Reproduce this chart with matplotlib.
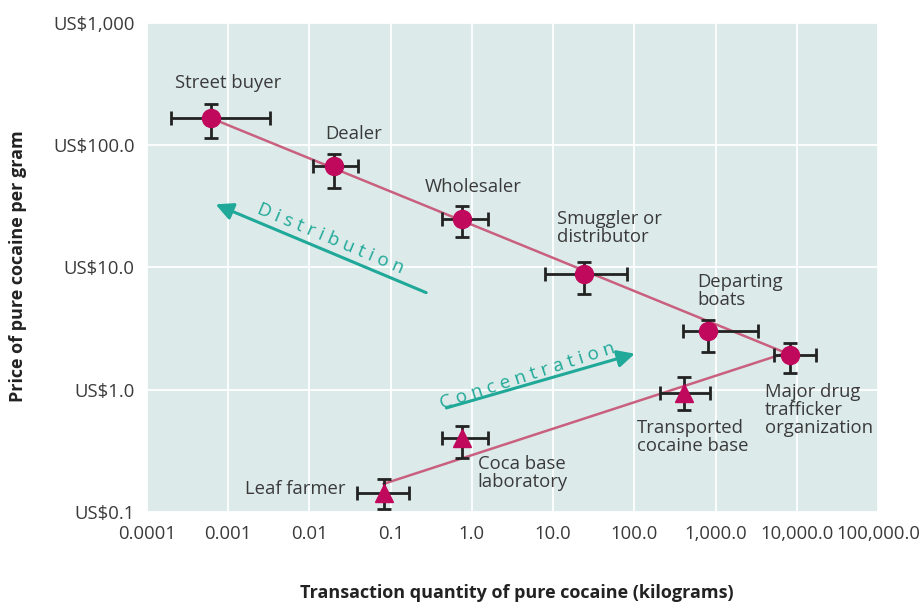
import matplotlib
matplotlib.use("Agg")
import matplotlib.pyplot as plt

plt.rcParams['font.family'] = ['Open Sans', 'DejaVu Sans']

# Distribution chain (circles): quantity (kg) and price (US$/g) with error ranges
circle_names = ['Street buyer', 'Dealer', 'Wholesaler', 'Smuggler or\ndistributor',
                'Departing\nboats', 'Major drug\ntrafficker\norganization']
circle_qty = [0.00062, 0.020, 0.75, 24, 800, 8200]
circle_qty_lo = [0.0002, 0.0112, 0.43, 8, 392, 5200]
circle_qty_hi = [0.0033, 0.040, 1.58, 82, 3300, 17200]
circle_price = [166, 67, 24.7, 8.8, 3.0, 1.94]
circle_price_lo = [114, 45, 17.6, 6.1, 2.05, 1.38]
circle_price_hi = [217, 84.5, 32, 11, 3.75, 2.43]

# Concentration chain (triangles)
tri_names = ['Transported\ncocaine base', 'Coca base\nlaboratory', 'Leaf farmer']
tri_qty = [403, 0.75, 0.082]
tri_qty_lo = [204, 0.43, 0.039]
tri_qty_hi = [843, 1.58, 0.167]
tri_price = [0.945, 0.40, 0.143]
tri_price_lo = [0.686, 0.277, 0.106]
tri_price_hi = [1.28, 0.507, 0.186]

# fitted trend lines
upper_line_x = [0.00062, 8200]
upper_line_y = [166, 1.94]
lower_line_x = [0.082, 8200]
lower_line_y = [0.17, 2.05]

x_ticks = [0.0001, 0.001, 0.01, 0.1, 1, 10, 100, 1000, 10000, 100000]
x_tick_labels = ['0.0001', '0.001', '0.01', '0.1', '1.0', '10.0', '100.0',
                 '1,000.0', '10,000.0', '100,000.0']
y_ticks = [0.1, 1, 10, 100, 1000]
y_tick_labels = ['US$0.1', 'US$1.0', 'US$10.0', 'US$100.0', 'US$1,000']

magenta = '#c0095c'
line_pink = '#c9607f'
teal = '#20a898'
text_col = '#3a3a3a'

fig = plt.figure(figsize=(9.23, 6.03), dpi=100)
ax = fig.add_axes([0.1593, 0.1509, 0.792, 0.811])
ax.set_facecolor('#dcebea')
ax.set_xscale('log')
ax.set_yscale('log')
ax.set_xlim(0.0001, 100000)
ax.set_ylim(0.1, 1000)

ax.set_xticks(x_ticks)
ax.set_xticklabels(x_tick_labels, fontsize=13.3, color=text_col)
ax.set_yticks(y_ticks)
ax.set_yticklabels(y_tick_labels, fontsize=13.3, color=text_col)
ax.minorticks_off()
ax.tick_params(length=0, pad=9)
ax.grid(True, color='white', linewidth=1.3)
ax.set_axisbelow(True)
for s in ax.spines.values():
    s.set_visible(False)

# trend lines
ax.plot(upper_line_x, upper_line_y, color=line_pink, lw=1.8, zorder=2)
ax.plot(lower_line_x, lower_line_y, color=line_pink, lw=1.8, zorder=2)

# error bars
def err(v, lo, hi):
    return [[a - b for a, b in zip(v, lo)], [c - a for a, c in zip(v, hi)]]

ax.errorbar(circle_qty, circle_price,
            xerr=err(circle_qty, circle_qty_lo, circle_qty_hi),
            yerr=err(circle_price, circle_price_lo, circle_price_hi),
            fmt='none', ecolor='#222222', elinewidth=2, capsize=5, capthick=2, zorder=3)
ax.errorbar(tri_qty, tri_price,
            xerr=err(tri_qty, tri_qty_lo, tri_qty_hi),
            yerr=err(tri_price, tri_price_lo, tri_price_hi),
            fmt='none', ecolor='#222222', elinewidth=2, capsize=5, capthick=2, zorder=3)

ax.plot(circle_qty, circle_price, 'o', color=magenta, markersize=13, zorder=4)
ax.plot(tri_qty, tri_price, '^', color=magenta, markersize=13, zorder=4)

# labels (offsets in pixels from each point)
circle_offsets = [(17, 35, 'center'), (20, 32, 'center'), (11, 32, 'center'),
                  (-27, 46, 'left'), (-10, 40, 'left'), (-25, -55, 'left')]
tri_offsets = [(-47, -44, 'left'), (16, -35, 'left'), (-38, 4, 'right')]

for name, x, y, (dx, dy, ha) in zip(circle_names + tri_names,
                                    circle_qty + tri_qty,
                                    circle_price + tri_price,
                                    circle_offsets + tri_offsets):
    ax.annotate(name, (x, y), xytext=(dx * 0.72, dy * 0.72), textcoords='offset points',
                ha=ha, va='center', fontsize=13.3, color=text_col, linespacing=1.0,
                zorder=5)

# direction arrows
ax.annotate('', xy=(0.00065, 33.5), xytext=(0.294, 6.1),
            arrowprops=dict(arrowstyle='-|>', color=teal, lw=2.2, mutation_scale=26))
ax.annotate('', xy=(109, 2.0), xytext=(0.45, 0.70),
            arrowprops=dict(arrowstyle='-|>', color=teal, lw=2.2, mutation_scale=26))
ax.text(0.018, 17.3, ' '.join('Distribution'), rotation=-22.7, rotation_mode='anchor',
        ha='center', va='center', fontsize=13.5, color=teal)
ax.text(4.8, 1.30, ' '.join('Concentration'), rotation=18, rotation_mode='anchor',
        ha='center', va='center', fontsize=13.5, color=teal)

fig.text(0.56, 0.017, 'Transaction quantity of pure cocaine (kilograms)', ha='center',
         va='center', fontsize=13, fontweight='bold', color='#222222')
fig.text(0.02, 0.559, 'Price of pure cocaine per gram', ha='center', va='center',
         rotation=90, fontsize=13, fontweight='bold', color='#222222')

fig.savefig('out.png', dpi=100)
